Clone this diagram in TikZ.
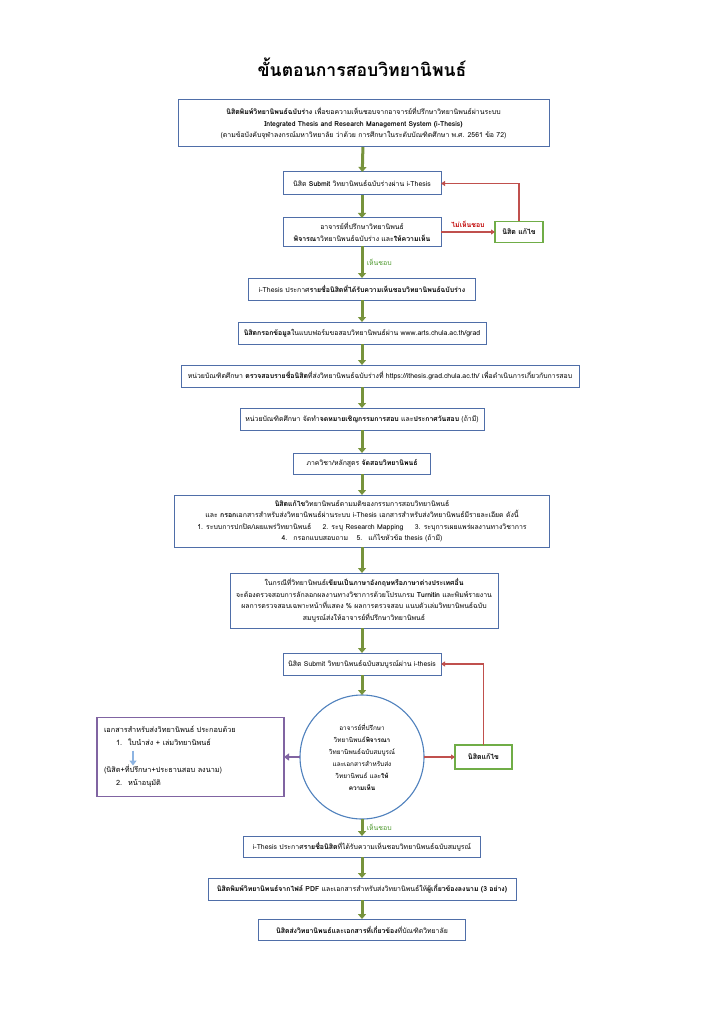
\documentclass[tikz,border=0pt]{standalone}
\usepackage{fontspec}
\setmainfont[Script=Thai]{Loma}
\usetikzlibrary{arrows.meta,positioning,calc}
\definecolor{boxblue}{HTML}{4F6EA8}
\definecolor{flowolive}{HTML}{77933C}
\definecolor{okgreen}{HTML}{4F9A2F}
\definecolor{fixgreen}{HTML}{70AD47}
\definecolor{backred}{HTML}{C0504D}
\definecolor{notred}{HTML}{C00000}
\definecolor{docpurple}{HTML}{8064A2}
\definecolor{circblue}{HTML}{4F81BD}
\definecolor{hintblue}{HTML}{8DB4E2}

\begin{document}
\begin{tikzpicture}[
  node distance=22pt,
  font=\fontsize{6.9}{11.5}\selectfont,
  box/.style={rectangle, draw=boxblue, line width=1pt, outer sep=0pt, fill=white, align=center, inner sep=2pt},
  fixbox/.style={rectangle, draw=fixgreen, line width=1.2pt, outer sep=0pt, align=center, inner sep=2pt, font=\fontsize{7}{11.5}\selectfont\bfseries},
  checkcirc/.style={circle, draw=circblue, line width=1.1pt, outer sep=0pt, align=center, inner sep=0pt, minimum size=124pt, font=\fontsize{6.4}{12}\selectfont},
  docbox/.style={rectangle, draw=docpurple, line width=1.1pt, outer sep=0pt, align=left, inner sep=7pt, font=\fontsize{7.3}{13}\selectfont},
  flow/.style={flowolive, line width=3pt, -{Triangle[length=5pt,width=8pt]}},
  back/.style={backred, line width=1.5pt, -{Triangle[length=4pt,width=5pt]}},
  oklabel/.style={right, text=okgreen, font=\fontsize{6.9}{11.5}\selectfont},
]
  \fill[white] (0,0) rectangle (724pt,-1024pt);
  \useasboundingbox (0,0) rectangle (724pt,-1024pt);

  \node[font=\fontsize{17.6}{20}\selectfont\bfseries] (title) at (362pt,-67pt) {ขั้นตอนการสอบวิทยานิพนธ์};

  % main column
  \node[box, minimum width=371pt, minimum height=47pt] (draft) at (363.5pt,-123.5pt)
    {\textbf{นิสิตพิมพ์วิทยานิพนธ์ฉบับร่าง} เพื่อขอความเห็นชอบจากอาจารย์ที่ปรึกษาวิทยานิพนธ์ผ่านระบบ\\
     \textbf{Integrated Thesis and Research Management System (i-Thesis)}\\
     (ตามข้อบังคับจุฬาลงกรณ์มหาวิทยาลัย ว่าด้วย การศึกษาในระดับบัณฑิตศึกษา พ.ศ. 2561 ข้อ 72)};
  \node[box, minimum width=158pt, minimum height=23pt, below=25pt of draft, xshift=-1.5pt] (submitdraft)
    {นิสิต \textbf{Submit} วิทยานิพนธ์ฉบับร่างผ่าน i-Thesis};
  \node[box, minimum width=158pt, minimum height=28pt, below=23pt of submitdraft] (advdraft)
    {อาจารย์ที่ปรึกษาวิทยานิพนธ์\\\textbf{พิจารณา}วิทยานิพนธ์ฉบับร่าง และ\textbf{ให้ความเห็น}};
  \node[box, minimum width=227pt, minimum height=22pt, below=32pt of advdraft] (listdraft)
    {i-Thesis ประกาศ\textbf{รายชื่อนิสิตที่ได้รับความเห็นชอบวิทยานิพนธ์ฉบับร่าง}};
  \node[box, minimum width=248pt, minimum height=22pt, below=22pt of listdraft] (form)
    {\textbf{นิสิตกรอกข้อมูล}ในแบบฟอร์มขอสอบวิทยานิพนธ์ผ่าน www.arts.chula.ac.th/grad};
  \node[box, minimum width=398pt, minimum height=22pt, below=21pt of form, xshift=18pt] (gradcheck)
    {หน่วยบัณฑิตศึกษา \textbf{ตรวจสอบรายชื่อนิสิต}ที่ส่งวิทยานิพนธ์ฉบับร่างที่ https://ithesis.grad.chula.ac.th/ เพื่อดำเนินการเกี่ยวกับการสอบ};
  \node[box, minimum width=244pt, minimum height=22pt, below=21pt of gradcheck, xshift=-18pt] (invite)
    {หน่วยบัณฑิตศึกษา จัดทำ\textbf{จดหมายเชิญกรรมการสอบ} และ\textbf{ประกาศวันสอบ} (ถ้ามี)};
  \node[box, minimum width=137pt, minimum height=21pt, below=23pt of invite] (exam)
    {ภาควิชา/หลักสูตร \textbf{จัดสอบวิทยานิพนธ์}};
  \node[box, minimum width=375pt, minimum height=52pt, below=21pt of exam] (revise)
    {\textbf{นิสิตแก้ไข}วิทยานิพนธ์ตามมติของกรรมการสอบวิทยานิพนธ์\\
     และ \textbf{กรอก}เอกสารสำหรับส่งวิทยานิพนธ์ผ่านระบบ i-Thesis เอกสารสำหรับส่งวิทยานิพนธ์มีรายละเอียด ดังนี้\\
     1. ระบบการปกปิด/เผยแพร่วิทยานิพนธ์\hspace{9pt} 2. ระบุ Research Mapping\hspace{9pt} 3. ระบุการเผยแพร่ผลงานทางวิชาการ\\
     4.\hspace{3pt} กรอกแบบสอบถาม\hspace{6pt} 5.\hspace{3pt} แก้ไขหัวข้อ thesis (ถ้ามี)};
  \node[box, minimum width=268pt, minimum height=55pt, below=26pt of revise, xshift=2pt] (turnitin)
    {ในกรณีที่วิทยานิพนธ์\textbf{เขียนเป็นภาษาอังกฤษหรือภาษาต่างประเทศอื่น}\\
     จะต้องตรวจสอบการลักลอกผลงานทางวิชาการด้วยโปรแกรม \textbf{Turnitin} และพิมพ์รายงาน\\
     ผลการตรวจสอบเฉพาะหน้าที่แสดง \% ผลการตรวจสอบ แนบตัวเล่มวิทยานิพนธ์ฉบับ\\
     สมบูรณ์ส่งให้อาจารย์ที่ปรึกษาวิทยานิพนธ์};
  \node[box, minimum width=158pt, minimum height=22pt, below=25pt of turnitin, xshift=-2pt] (submitfull)
    {นิสิต Submit วิทยานิพนธ์ฉบับสมบูรณ์ผ่าน i-thesis};
  \node[checkcirc, below=20pt of submitfull] (advfull)
    {อาจารย์ที่ปรึกษา\\วิทยานิพนธ์\textbf{พิจารณา}\\วิทยานิพนธ์ฉบับสมบูรณ์\\และเอกสารสำหรับส่ง\\วิทยานิพนธ์ และ\textbf{ให้}\\\textbf{ความเห็น}};
  \node[box, minimum width=237pt, minimum height=21pt, below=17pt of advfull] (listfull)
    {i-Thesis ประกาศ\textbf{รายชื่อนิสิต}ที่ได้รับความเห็นชอบวิทยานิพนธ์ฉบับสมบูรณ์};
  \node[box, minimum width=308pt, minimum height=22pt, below=21pt of listfull] (print)
    {\textbf{นิสิตพิมพ์วิทยานิพนธ์จากไฟล์ PDF} และเอกสารสำหรับส่งวิทยานิพนธ์ให้\textbf{ผู้เกี่ยวข้องลงนาม (3 อย่าง)}};
  \node[box, minimum width=207pt, minimum height=21pt, below=19pt of print] (deliver)
    {\textbf{นิสิตส่งวิทยานิพนธ์และเอกสารที่เกี่ยวข้อง}ที่บัณฑิตวิทยาลัย};

  % side boxes
  \node[fixbox, minimum width=48pt, minimum height=21pt, right=54pt of advdraft] (fixdraft) {นิสิต แก้ไข};
  \node[fixbox, minimum width=57pt, minimum height=24pt, right=31pt of advfull] (fixfull) {นิสิตแก้ไข};
  \node[docbox, text width=173pt, minimum height=79pt, left=16pt of advfull] (docs)
    {เอกสารสำหรับส่งวิทยานิพนธ์ ประกอบด้วย\\
     \hspace*{12pt}1.\hspace{6pt}ใบนำส่ง + เล่มวิทยานิพนธ์\\[14pt]
     (นิสิต+ที่ปรึกษา+ประธานสอบ ลงนาม)\\
     \hspace*{12pt}2.\hspace{6pt}หน้าอนุมัติ};
  \coordinate (hinttop) at ($(docs.north west)+(36pt,-33pt)$);
  \coordinate (hintend) at ($(docs.north west)+(36pt,-48pt)$);

  % connectors
  \draw[flow] (draft) -- (submitdraft);
  \draw[flow] (submitdraft) -- (advdraft);
  \draw[flow] (advdraft) -- node[oklabel] {เห็นชอบ} (listdraft);
  \draw[flow] (listdraft) -- (form);
  \draw[flow] (form.south) -- (form.south |- gradcheck.north);
  \draw[flow] (invite.north |- gradcheck.south) -- (invite.north);
  \draw[flow] (invite) -- (exam);
  \draw[flow] (exam) -- (revise);
  \draw[flow] (revise.south -| submitfull) -- (submitfull.north |- turnitin.north);
  \draw[flow] (turnitin.south -| submitfull) -- (submitfull);
  \draw[flow] (submitfull) -- (advfull);
  \draw[flow] (advfull) -- node[oklabel] {เห็นชอบ} (listfull);
  \draw[flow] (listfull) -- (print);
  \draw[flow] (print) -- (deliver);

  \draw[back] (advdraft) -- node[above, text=notred, font=\fontsize{6.9}{11.5}\selectfont\bfseries] {ไม่เห็นชอบ} (fixdraft);
  \draw[back] (fixdraft.north) |- (submitdraft.east);
  \draw[back] (advfull) -- (fixfull);
  \draw[back] (fixfull.north) |- (submitfull.east);
  \draw[docpurple, line width=2.5pt, -{Triangle[length=5pt,width=7pt]}] (advfull) -- (docs);
  \draw[hintblue, line width=2.5pt, -{Triangle[length=5pt,width=7pt]}] (hinttop) -- (hintend);
\end{tikzpicture}
\end{document}
